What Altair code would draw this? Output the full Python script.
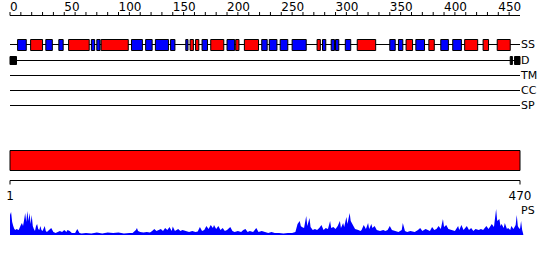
import altair as alt
import pandas as pd

# ---------------- data ----------------
seq_len = 470
ruler_ticks = [0, 10, 20, 30, 40, 50, 60, 70, 80, 90, 100, 110, 120, 130, 140, 150, 160, 170, 180, 190,
               200, 210, 220, 230, 240, 250, 260, 270, 280, 290, 300, 310, 320, 330, 340, 350, 360, 370,
               380, 390, 400, 410, 420, 430, 440, 450, 460]
ruler_labels = [0, 50, 100, 150, 200, 250, 300, 350, 400, 450]

ss_start = [7, 19, 33, 45, 54, 75, 80, 84, 112, 125, 134, 148, 162, 166, 171, 177, 185, 200, 208, 216,
            232, 239, 249, 260, 283, 288, 296, 300, 309, 320, 350, 358, 365, 374, 386, 397, 408, 419, 436, 449]
ss_end = [15, 30, 39, 49, 73, 78, 83, 109, 122, 131, 146, 152, 164, 169, 174, 182, 197, 207, 211, 229,
          237, 246, 256, 273, 286, 291, 299, 303, 314, 337, 355, 362, 371, 382, 391, 404, 416, 431, 441, 461]
ss_type = ["E", "H", "E", "E", "H", "E", "E", "H", "E", "E", "E", "E", "E", "H", "H", "E", "H", "E", "H", "H",
           "E", "E", "E", "E", "H", "E", "E", "E", "E", "H", "E", "E", "H", "E", "H", "E", "E", "H", "H", "H"]

dis_start = [0, 461, 465]
dis_end = [6, 463, 470]

tracks = ["SS", "D", "TM", "CC", "SP"]
track_rows = [44.5, 60.5, 75.5, 90.5, 105.5]

bottom_ticks = [0, 470]
bottom_labels = ["1", "470"]

ps_pos = [0, 1, 2, 3, 4, 5, 6, 8, 10, 11, 12, 13, 14, 15, 16, 17, 18, 19, 20, 21, 22, 23, 24, 25, 26, 27, 28,
          29, 30, 32, 33, 34, 36, 38, 40, 42, 44, 46, 48, 50, 52, 53, 55, 57, 60, 62, 64, 66, 70, 75, 80, 85,
          90, 95, 100, 105, 110, 113, 116, 117, 118, 120, 123, 126, 129, 131, 133, 135, 137, 139, 141, 143,
          145, 147, 149, 150, 152, 155, 157, 159, 162, 165, 168, 171, 173, 175, 177, 179, 181, 183, 185, 187,
          188, 190, 192, 194, 196, 198, 200, 203, 205, 207, 210, 213, 215, 217, 219, 221, 224, 227, 229, 232,
          235, 238, 241, 244, 248, 252, 256, 260, 263, 265, 267, 268, 269, 271, 273, 274, 276, 277, 279, 281,
          283, 285, 287, 289, 291, 293, 295, 296, 298, 300, 302, 304, 305, 307, 308, 310, 311, 313, 314, 316,
          318, 321, 323, 324, 326, 328, 330, 331, 333, 334, 336, 338, 341, 344, 346, 348, 350, 352, 355, 358,
          361, 362, 364, 366, 369, 373, 376, 378, 380, 383, 385, 387, 389, 391, 393, 395, 397, 399, 400, 402,
          404, 407, 410, 413, 414, 416, 418, 421, 423, 425, 427, 429, 432, 434, 436, 439, 441, 444, 446, 448,
          449, 451, 452, 453, 455, 456, 458, 459, 461, 462, 464, 466, 467, 468, 469, 470, 471, 472, 473]
ps_val = [20, 23, 13, 9, 6, 5, 6, 5, 10, 12, 9, 15, 22, 13, 24, 14, 22, 11, 20, 9, 6, 4, 9, 11, 6, 5, 9,
          5, 4, 9, 4, 3, 5, 7, 3, 2, 3, 4, 3, 5, 3, 5, 4, 2, 2, 6, 2, 1.5, 2, 1.5, 2.5, 1.5,
          2.5, 2, 2.5, 1.5, 2, 2, 5, 7, 4, 3, 2.5, 3, 2.5, 4, 6, 4, 5, 6, 4, 7,
          5, 8, 4, 8.5, 4, 6, 4, 5, 4, 3, 4, 3, 3.5, 8, 4, 5, 9, 6, 10, 7,
          10, 6, 9, 5, 7, 4, 5, 8, 4, 3, 4, 3, 5, 6, 3, 4, 3, 7, 3, 4,
          3, 2, 3, 2, 2, 1.5, 2, 2, 3, 11, 14, 9, 8, 7, 19, 9, 17, 8, 5, 6,
          5, 7, 10, 5, 7, 6, 14, 7, 8, 6, 9, 14, 7, 12, 8, 18, 11, 22, 14, 10,
          6, 5, 4, 5, 10, 6, 12, 6, 11, 7, 9, 5, 4, 5, 4, 5, 9, 5, 4, 3,
          5, 12, 4, 3, 4, 3, 5, 7, 4, 6, 5, 4, 8, 5, 6, 9, 6, 16, 8, 10,
          6, 5, 4, 9, 5, 10, 5, 9, 5, 7, 4, 6, 5, 6, 5, 9, 6, 11, 8, 26,
          14, 16, 9, 11, 7, 12, 6, 7, 5, 9, 6, 10, 20, 9, 7, 6, 14, 5, 1]

# ---------------- tables ----------------
ss_df = pd.DataFrame({"start": ss_start, "end": ss_end, "type": ss_type})
dis_df = pd.DataFrame({"start": dis_start, "end": dis_end})
tick_df = pd.DataFrame({"pos": ruler_ticks,
                        "major": [t in ruler_labels for t in ruler_ticks]})
lab_df = pd.DataFrame({"pos": ruler_labels, "label": [str(v) for v in ruler_labels]})
span_df = pd.DataFrame({"start": [0], "end": [seq_len]})
bt_df = pd.DataFrame({"pos": bottom_ticks, "label": bottom_labels})
ps_df = pd.DataFrame({"pos": ps_pos, "val": ps_val})

FONT = "DejaVu Sans"
xs = alt.Scale(domain=[0, seq_len], nice=False, zero=False)


def X(field):
    return alt.X(f"{field}:Q", scale=xs, axis=None)


layers = []

# top ruler
layers.append(alt.Chart(span_df).mark_rule(color="black", strokeWidth=1).encode(
    x=X("start"), x2="end", y=alt.value(15.5)))
layers.append(alt.Chart(tick_df).mark_rule(color="black", strokeWidth=1).encode(
    x=X("pos"), y=alt.value(12), y2=alt.value(15.5)))
layers.append(alt.Chart(lab_df).mark_text(align="left", baseline="alphabetic", fontSize=12,
                                          font=FONT, color="black", dx=0).encode(
    x=X("pos"), y=alt.value(10.5), text="label:N"))

# track lines and labels
for name, row in zip(tracks, track_rows):
    layers.append(alt.Chart(span_df).mark_rule(color="black", strokeWidth=1).encode(
        x=X("start"), x2="end", y=alt.value(row)))
    layers.append(alt.Chart(pd.DataFrame({"pos": [seq_len], "label": [name]})).mark_text(
        align="left", baseline="middle", fontSize=11, font=FONT, color="black", dx=1).encode(
        x=X("pos"), y=alt.value(row), text="label:N"))

# secondary structure boxes
layers.append(alt.Chart(ss_df).mark_rect(stroke="black", strokeWidth=1).encode(
    x=X("start"), x2="end", y=alt.value(39.5), y2=alt.value(50.5),
    color=alt.Color("type:N", scale=alt.Scale(domain=["H", "E"], range=["#ff0000", "#0000ff"]),
                    legend=None)))

# disorder boxes
layers.append(alt.Chart(dis_df).mark_rect(stroke="black", strokeWidth=1, color="black").encode(
    x=X("start"), x2="end", y=alt.value(56.5), y2=alt.value(64.5)))

# full-length red bar
layers.append(alt.Chart(span_df).mark_rect(stroke="black", strokeWidth=1, color="#ff0000").encode(
    x=X("start"), x2="end", y=alt.value(150.5), y2=alt.value(170.5)))

# bottom axis
layers.append(alt.Chart(span_df).mark_rule(color="black", strokeWidth=1).encode(
    x=X("start"), x2="end", y=alt.value(180.5)))
layers.append(alt.Chart(bt_df).mark_rule(color="black", strokeWidth=1).encode(
    x=X("pos"), y=alt.value(180.5), y2=alt.value(184.5)))
layers.append(alt.Chart(bt_df).mark_text(align="center", baseline="alphabetic", fontSize=12,
                                         font=FONT, color="black").encode(
    x=X("pos"), y=alt.value(200), text="label:N"))

# PS profile
layers.append(alt.Chart(ps_df).mark_area(color="#0000ff", interpolate="linear").encode(
    x=X("pos"),
    y=alt.Y("val:Q", scale=alt.Scale(domain=[0, 30], range=[235, 205]), axis=None)))
layers.append(alt.Chart(pd.DataFrame({"pos": [seq_len], "label": ["PS"]})).mark_text(
    align="left", baseline="middle", fontSize=11, font=FONT, color="black", dx=1).encode(
    x=X("pos"), y=alt.value(210.5), text="label:N"))

chart = alt.layer(*layers).properties(
    width=510, height=260,
    autosize=alt.AutoSizeParams(type="none"),
    padding={"left": 10, "right": 30, "top": 0, "bottom": 0},
    background="white",
).configure_view(stroke=None)

chart.save("out.html", embed_options={"renderer": "svg", "actions": False})
